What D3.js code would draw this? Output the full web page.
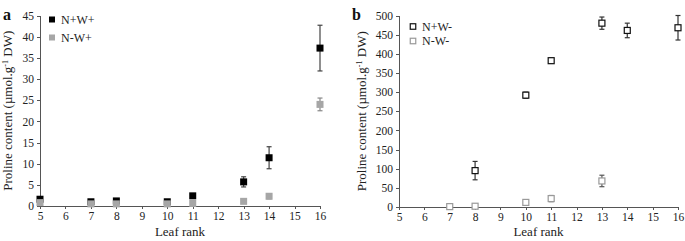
<!DOCTYPE html>
<html>
<head>
<meta charset="utf-8">
<script src="https://cdn.jsdelivr.net/npm/d3@7"></script>
<style>
  body { margin: 0; background: #fff; }
  .axis path, .axis line { stroke: #555; shape-rendering: crispEdges; }
</style>
</head>
<body>
<svg id="chart" width="685" height="241"></svg>
<script>
// panel a : N+W+ and N-W+
var rankA = [5, 7, 8, 10, 11, 13, 14, 16];
var nwPlus = [1.6, 1.0, 1.2, 1.0, 2.4, 5.7, 11.4, 37.3];
var nwPlusErr = [0.3, 0.2, 0.2, 0.2, 0.4, 1.2, 2.6, 5.4];
var nmwPlus = [0.8, 0.5, 0.5, 0.5, 0.6, 1.1, 2.3, 24.0];
var nmwPlusErr = [0.1, 0.1, 0.1, 0.1, 0.1, 0.2, 0.6, 1.5];

// panel b : N+W- and N-W-
var rankB1 = [8, 10, 11, 13, 14, 16];
var nwMinus = [95, 292, 382, 480, 461, 468];
var nwMinusErr = [24, 8, 7, 16, 19, 32];
var rankB2 = [7, 8, 10, 11, 13];
var nmwMinus = [1, 2, 12, 22, 68];
var nmwMinusErr = [0, 0, 0, 8, 15];

var xTicks = [5, 6, 7, 8, 9, 10, 11, 12, 13, 14, 15, 16];
var yTicksA = [0, 5, 10, 15, 20, 25, 30, 35, 40, 45];
var yTicksB = [0, 50, 100, 150, 200, 250, 300, 350, 400, 450, 500];

var FONT = '"Liberation Serif", "Times New Roman", "DejaVu Serif", serif';

var svg = d3.select('#chart').attr('font-family', FONT);

function drawPanel(opt) {
	var x = d3.scaleLinear().domain([5, 16]).range([opt.left, opt.right]);
	var y = d3.scaleLinear().domain([0, opt.ymax]).range([opt.bottom, opt.top]);

	var g = svg.append('g');

	g.append('g')
		.attr('class', 'axis')
		.attr('transform', 'translate(0,' + opt.bottom + ')')
		.call(d3.axisBottom(x).tickValues(xTicks).tickSize(3).tickSizeOuter(0).tickPadding(3).tickFormat(d3.format('d')))
		.attr('font-family', FONT).attr('font-size', 11.5)
		.selectAll('text').attr('fill', '#222');

	g.append('g')
		.attr('class', 'axis')
		.attr('transform', 'translate(' + opt.left + ',0)')
		.call(d3.axisLeft(y).tickValues(opt.yTicks).tickSize(3).tickSizeOuter(0).tickPadding(3).tickFormat(d3.format('d')))
		.attr('font-family', FONT).attr('font-size', 11.5)
		.selectAll('text').attr('fill', '#222');

	// axis titles
	g.append('text')
		.attr('x', (opt.left + opt.right) / 2)
		.attr('y', 236)
		.attr('text-anchor', 'middle')
		.attr('font-size', 13)
		.attr('fill', '#222')
		.text('Leaf rank');

	var yt = g.append('text')
		.attr('transform', 'translate(' + opt.titleX + ',' + ((opt.top + opt.bottom) / 2) + ') rotate(-90)')
		.attr('text-anchor', 'middle')
		.attr('font-size', 13)
		.attr('fill', '#222');
	yt.append('tspan').text('Proline content (µmol.g');
	yt.append('tspan').attr('font-size', 8).attr('dy', -4).text('-1');
	yt.append('tspan').attr('dy', 4).text(' DW)');

	// panel letter
	g.append('text')
		.attr('x', opt.letterX)
		.attr('y', 20)
		.attr('font-size', 16)
		.attr('font-weight', 'bold')
		.attr('fill', '#111')
		.text(opt.letter);

	opt.series.forEach(function(s, k) {
		var pts = s.xs.map(function(r, i) { return {r: r, v: s.vals[i], e: s.errs[i]}; });
		var sg = g.append('g');
		// error bars
		pts.filter(function(d) { return d.e > 0; }).forEach(function(d) {
			var cx = x(d.r);
			sg.append('line').attr('x1', cx).attr('x2', cx)
				.attr('y1', y(d.v + d.e)).attr('y2', y(d.v - d.e))
				.attr('stroke', s.errColor).attr('stroke-width', 1.2);
			[d.v + d.e, d.v - d.e].forEach(function(v) {
				sg.append('line').attr('x1', cx - 2.5).attr('x2', cx + 2.5)
					.attr('y1', y(v)).attr('y2', y(v))
					.attr('stroke', s.errColor).attr('stroke-width', 1.2);
			});
		});
		sg.selectAll('rect.pt').data(pts).enter().append('rect')
			.attr('class', 'pt')
			.attr('x', function(d) { return x(d.r) - s.size / 2; })
			.attr('y', function(d) { return y(d.v) - s.size / 2; })
			.attr('width', s.size).attr('height', s.size)
			.attr('fill', s.fill)
			.attr('stroke', s.stroke)
			.attr('stroke-width', s.sw);

		// legend
		var ly = opt.legendY[k];
		g.append('rect')
			.attr('x', opt.legendX - s.lsize / 2).attr('y', ly - s.lsize / 2)
			.attr('width', s.lsize).attr('height', s.lsize)
			.attr('fill', s.fill).attr('stroke', s.stroke).attr('stroke-width', s.sw);
		g.append('text')
			.attr('x', opt.legendX + 9).attr('y', ly + 4)
			.attr('font-size', 12).attr('fill', '#222')
			.text(s.name);
	});
}

drawPanel({
	left: 40, right: 320, top: 15.5, bottom: 206, ymax: 45, yTicks: yTicksA,
	titleX: 12, letter: 'a', letterX: 3,
	legendX: 52, legendY: [19.5, 37.5],
	series: [
		{name: 'N+W+', xs: rankA, vals: nwPlus, errs: nwPlusErr, fill: '#000', stroke: 'none', sw: 0, size: 7, lsize: 6, errColor: '#444'},
		{name: 'N-W+', xs: rankA, vals: nmwPlus, errs: nmwPlusErr, fill: '#a6a6a6', stroke: 'none', sw: 0, size: 7, lsize: 6, errColor: '#888'}
	]
});

drawPanel({
	left: 399, right: 678, top: 15.5, bottom: 207, ymax: 500, yTicks: yTicksB,
	titleX: 366, letter: 'b', letterX: 352,
	legendX: 413, legendY: [26.5, 41],
	series: [
		{name: 'N+W-', xs: rankB1, vals: nwMinus, errs: nwMinusErr, fill: '#fff', stroke: '#111', sw: 1.2, size: 6, lsize: 5.5, errColor: '#333'},
		{name: 'N-W-', xs: rankB2, vals: nmwMinus, errs: nmwMinusErr, fill: '#fff', stroke: '#999', sw: 1.2, size: 6, lsize: 5.5, errColor: '#555'}
	]
});
</script>
</body>
</html>
